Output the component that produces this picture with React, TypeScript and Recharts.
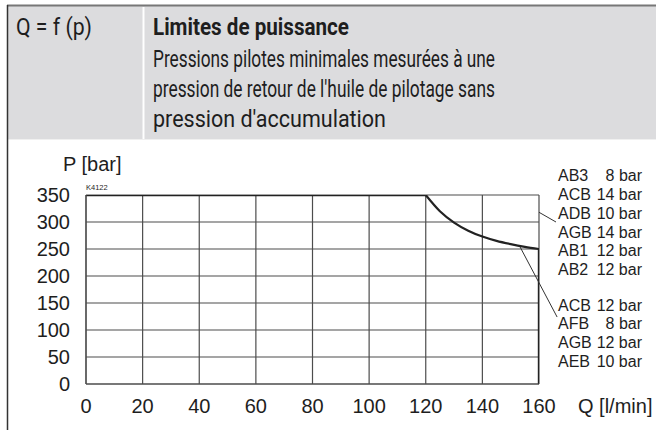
import React from "react";
import { LineChart, Line, XAxis, YAxis, CartesianGrid, ReferenceLine } from "recharts";

// ---- data ----
const xTicks = [0, 20, 40, 60, 80, 100, 120, 140, 160];
const yTicks = [0, 50, 100, 150, 200, 250, 300, 350];

const flatQ = [0, 120];
const flatP = [350, 350];

const curveQ = [120, 125, 130, 135, 140, 145, 150, 155, 160];
const curveP = [350, 320, 299, 284, 273, 265, 259, 254, 250];

const edgeQ = [160, 160];
const edgeP = [250, 0];

const leaderTop = [
  { x: 160, y: 318 },
  { x: 166, y: 300 },
];
const leaderBottom = [
  { x: 153.3, y: 254 },
  { x: 166.4, y: 124 },
];

const groupTopNames = ["AB3", "ACB", "ADB", "AGB", "AB1", "AB2"];
const groupTopValues = ["8 bar", "14 bar", "10 bar", "14 bar", "12 bar", "12 bar"];
const groupBottomNames = ["ACB", "AFB", "AGB", "AEB"];
const groupBottomValues = ["12 bar", "8 bar", "12 bar", "10 bar"];

const headerLeft = "Q = f (p)";
const headerTitle = "Limites de puissance";
const headerLines = [
  "Pressions pilotes minimales mesurées à une",
  "pression de retour de l'huile de pilotage sans",
  "pression d'accumulation",
];

const yTitle = "P [bar]";
const xTitle = "Q [l/min]";
const code = "K4122";

const toData = (qs: number[], ps: number[]) => qs.map((q, i) => ({ q, p: ps[i] }));
const flatData = toData(flatQ, flatP);
const curveData = toData(curveQ, curveP);
const edgeData = toData(edgeQ, edgeP);

const FONT = "'Liberation Sans', Arial, sans-serif";
const NARROW = "Roboto, 'Liberation Sans', sans-serif";
const INK = "#1e1e1e";
const GRID = "#4d4d4d";

export default function App() {
  return (
    <div style={{ position: "absolute", left: 0, top: 0, width: 656, height: 430, background: "#fff", overflow: "hidden" }}>
      {/* header */}
      <svg width={656} height={430} style={{ position: "absolute", left: 0, top: 0 }}>
        <rect x={7} y={6} width={649} height={133} fill="#dcdcde" />
        <line x1={7} y1={5.5} x2={656} y2={5.5} stroke="#777" strokeWidth={2} />
        <line x1={143.5} y1={7} x2={143.5} y2={139} stroke="#fff" strokeWidth={2} />
        <line x1={7} y1={139.5} x2={656} y2={139.5} stroke="#f0f0f0" strokeWidth={1} />
        <line x1={7.5} y1={5} x2={7.5} y2={430} stroke="#333" strokeWidth={1.5} />
        <g fontFamily={NARROW} fontSize={24} fill={INK}>
          <text x={16} y={34.5} textLength={76} lengthAdjust="spacingAndGlyphs">{headerLeft}</text>
          <text x={153} y={34.5} fontWeight="bold" textLength={196} lengthAdjust="spacingAndGlyphs">{headerTitle}</text>
          <text x={153} y={67} textLength={342} lengthAdjust="spacingAndGlyphs">{headerLines[0]}</text>
          <text x={153} y={97} textLength={342} lengthAdjust="spacingAndGlyphs">{headerLines[1]}</text>
          <text x={153} y={127} textLength={233} lengthAdjust="spacingAndGlyphs">{headerLines[2]}</text>
        </g>
      </svg>

      <div style={{ position: "absolute", left: 0, top: 0 }}>
        <LineChart width={656} height={430} margin={{ top: 195, right: 117, bottom: 16, left: 26 }}>
          <CartesianGrid stroke={GRID} strokeWidth={1.2} />
          <XAxis
            type="number"
            dataKey="q"
            domain={[0, 160]}
            ticks={xTicks}
            allowDataOverflow
            height={30}
            tickSize={0}
            tickMargin={15}
            axisLine={{ stroke: GRID, strokeWidth: 1.2 }}
            tickLine={false}
            tick={{ fontSize: 20, fill: INK, fontFamily: FONT }}
            interval={0}
          />
          <YAxis
            type="number"
            dataKey="p"
            domain={[0, 350]}
            ticks={yTicks}
            allowDataOverflow
            width={60}
            tickSize={0}
            tickMargin={16}
            axisLine={{ stroke: GRID, strokeWidth: 1.2 }}
            tickLine={false}
            tick={{ fontSize: 20, fill: INK, fontFamily: FONT }}
            interval={0}
          />
          <Line data={flatData} dataKey="p" type="linear" stroke="#222" strokeWidth={2.4} dot={false} activeDot={false} isAnimationActive={false} />
          <Line data={curveData} dataKey="p" type="monotone" stroke="#222" strokeWidth={2.2} dot={false} activeDot={false} isAnimationActive={false} />
          <Line data={edgeData} dataKey="p" type="linear" stroke="#222" strokeWidth={2.4} dot={false} activeDot={false} isAnimationActive={false} />
          <ReferenceLine segment={leaderTop} stroke="#333" strokeWidth={1} ifOverflow="visible" />
          <ReferenceLine segment={leaderBottom} stroke="#333" strokeWidth={1} ifOverflow="visible" />
        </LineChart>
      </div>

      {/* annotations */}
      <svg width={656} height={430} style={{ position: "absolute", left: 0, top: 0, pointerEvents: "none" }}>
        <g fontFamily={FONT} fill={INK}>
          <text x={63} y={171} fontSize={20}>{yTitle}</text>
          <text x={86} y={190} fontSize={7.5}>{code}</text>
          <text x={578} y={413} fontSize={20}>{xTitle}</text>
          {groupTopNames.map((n, i) => (
            <g key={"t" + i} fontSize={16}>
              <text x={558} y={181.4 + i * 18.7}>{n}</text>
              <text x={642} y={181.4 + i * 18.7} textAnchor="end">{groupTopValues[i]}</text>
            </g>
          ))}
          {groupBottomNames.map((n, i) => (
            <g key={"b" + i} fontSize={16}>
              <text x={558} y={310.7 + i * 18.7}>{n}</text>
              <text x={642} y={310.7 + i * 18.7} textAnchor="end">{groupBottomValues[i]}</text>
            </g>
          ))}
        </g>
      </svg>
    </div>
  );
}
